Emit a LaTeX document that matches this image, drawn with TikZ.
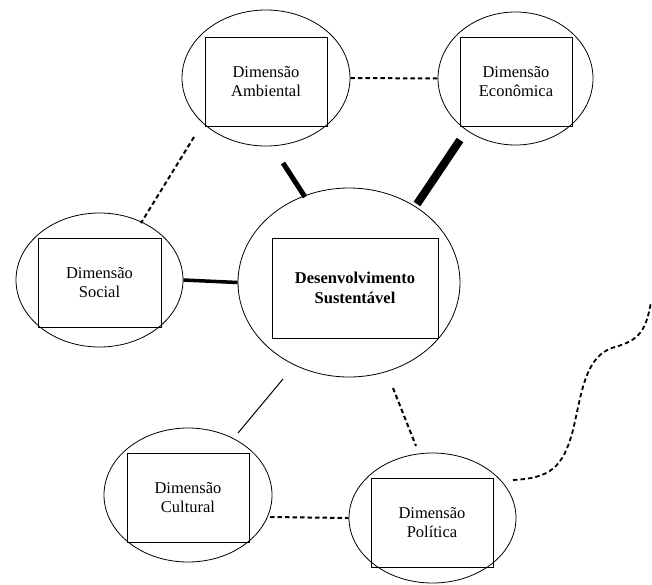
\documentclass[tikz,border=0pt]{standalone}
\usepackage{fontspec}
\setmainfont{Liberation Serif}
\usetikzlibrary{shapes.geometric}
\begin{document}
\begin{tikzpicture}[x=1pt,y=-1pt,
  oval/.style={draw, ellipse, line width=0.8pt, inner sep=0pt},
  box/.style={draw, line width=0.8pt, inner sep=0pt, align=center,
    font=\fontsize{16.5}{19.5}\selectfont},
  dline/.style={line width=2pt, dash pattern=on 4.5pt off 3pt},
  link/.style={line width=#1}
]
\useasboundingbox (0,0) rectangle (652,584);

% ellipses
\node[oval, minimum width=168, minimum height=136] (amb) at (266,78) {};
\node[oval, minimum width=155, minimum height=133] (eco) at (515.5,78.5) {};
\node[oval, minimum width=167, minimum height=134] (soc) at (99.5,280) {};
\node[oval, minimum width=222, minimum height=189] (ds)  at (349,282.5) {};
\node[oval, minimum width=168, minimum height=134] (cul) at (188,495) {};
\node[oval, minimum width=167, minimum height=130] (pol) at (432.5,518) {};

% boxes with labels
\node[box, minimum width=122, minimum height=89] (ambbox) at (266,81.5) {Dimensão\\Ambiental};
\node[box, minimum width=112, minimum height=89] (ecobox) at (516,81.5) {Dimensão\\Econômica};
\node[box, minimum width=123, minimum height=89] (socbox) at (99.5,282.5) {Dimensão\\Social};
\node[box, minimum width=166, minimum height=100] (dsbox) at (355,288) {\textbf{Desenvolvimento}\\\textbf{Sustentável}};
\node[box, minimum width=122, minimum height=89] (culbox) at (188,497.5) {Dimensão\\Cultural};
\node[box, minimum width=122, minimum height=89] (polbox) at (432,522.5) {Dimensão\\Política};

% connector end points
\coordinate (as1) at (194,137);
\coordinate (as2) at (141,223);
\coordinate (ad1) at (283,163);
\coordinate (ad2) at (305,197);
\coordinate (ed1) at (460,140);
\coordinate (ed2) at (417,204);
\coordinate (dc1) at (283,379);
\coordinate (dc2) at (238,433);
\coordinate (dp1) at (393,388);
\coordinate (dp2) at (416,446);
\coordinate (cp1) at (270,517);
\coordinate (w0) at (513,480);
\coordinate (w1) at (651,302);

% connectors
\draw[dline] (amb.east) -- (eco.west);
\draw[dline] (as1) -- (as2);
\draw[link=5pt] (ad1) -- (ad2);
\draw[link=8pt] (ed1) -- (ed2);
\draw[link=3.5pt] (soc.east) -- (ds.west);
\draw[link=1pt] (dc1) -- (dc2);
\draw[dline] (dp1) -- (dp2);
\draw[dline] (cp1) -- (pol.west);
\draw[dline, line width=1.8pt] (w0) .. controls (550,478) and (563,468) .. (573,430)
  .. controls (582,392) and (585,355) .. (615,347)
  .. controls (640,340) and (646,330) .. (w1);
\end{tikzpicture}
\end{document}
